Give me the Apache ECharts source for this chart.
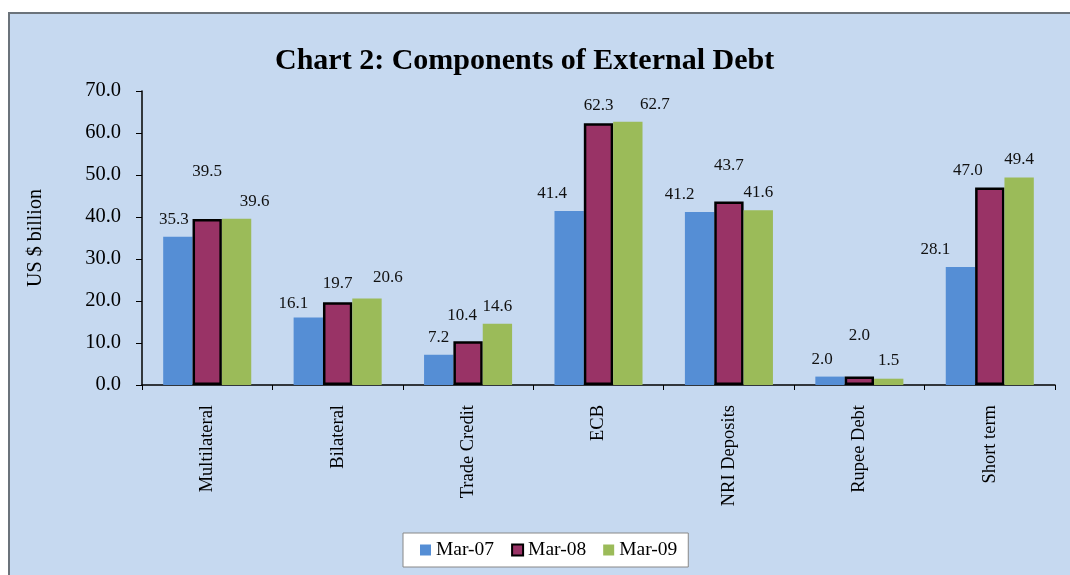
<!DOCTYPE html>
<html>
<head>
<meta charset="utf-8">
<script src="https://cdn.jsdelivr.net/npm/echarts@6/dist/echarts.min.js"></script>
<style>
  html, body { margin: 0; padding: 0; background: #ffffff; }
  #box { position: absolute; left: 8px; top: 12px; width: 1062px; height: 563px;
         background: #c6d9f0; border-left: 2px solid #6b737b; border-top: 2px solid #6b737b; box-sizing: border-box; }
  #chart { position: absolute; left: 0; top: 0; width: 1070px; height: 575px; }
</style>
</head>
<body>
<div id="box"></div>
<div id="chart"></div>
<script>
// ---- data ----
const categories = ['Multilateral', 'Bilateral', 'Trade Credit', 'ECB', 'NRI Deposits', 'Rupee Debt', 'Short term'];
const seriesNames = ['Mar-07', 'Mar-08', 'Mar-09'];
const mar07 = [35.3, 16.1, 7.2, 41.4, 41.2, 2.0, 28.1];
const mar08 = [39.5, 19.7, 10.4, 62.3, 43.7, 2.0, 47.0];
const mar09 = [39.6, 20.6, 14.6, 62.7, 41.6, 1.5, 49.4];
const yTicks = ['0.0', '10.0', '20.0', '30.0', '40.0', '50.0', '60.0', '70.0'];

// ---- label placement nudges (style only, mimics the original label layout) ----
const nudge07 = [[-4, 0], [-15, 4], [0, 0], [-17, 0], [-20, 0], [-8, 0], [-25, 0]];
const nudge08 = [[0, -30], [0, -1], [-6, -8], [0, 0], [0, -18], [0, -24], [-22, 0]];
const nudge09 = [[18, 0], [21, -3], [0, 0], [27, 0], [0, 0], [0, -1], [0, 0]];

const serif = 'Liberation Serif, Times New Roman, serif';
const chart = echarts.init(document.getElementById('chart'), null, { renderer: 'canvas' });

function mkData(values, nudges) {
  return values.map((v, i) => ({ value: v, label: { offset: nudges[i] } }));
}
const labelCfg = {
  show: true, position: 'top', distance: 9,
  fontFamily: serif, fontSize: 17, color: '#111',
  formatter: p => Number(p.value).toFixed(1)
};

const option = {
  backgroundColor: 'transparent',
  animation: false,
  title: {
    text: 'Chart 2: Components of External Debt',
    left: 270, top: 41,
    textStyle: { fontFamily: serif, fontSize: 30, fontWeight: 'bold', color: '#000' }
  },
  legend: {
    data: seriesNames,
    left: 403, top: 533,
    padding: [7, 11, 7, 17],
    itemWidth: 11, itemHeight: 11, itemGap: 17,
    backgroundColor: '#ffffff', borderColor: '#888888', borderWidth: 1,
    textStyle: { fontFamily: serif, fontSize: 19.5, color: '#000' },
    icon: 'rect'
  },
  grid: { left: 142, right: 15, top: 91, bottom: 190, containLabel: false },
  xAxis: {
    type: 'category',
    data: categories,
    axisLine: { lineStyle: { color: '#000', width: 1.5 } },
    axisTick: { show: true, length: 5, lineStyle: { color: '#000' } },
    axisLabel: { rotate: 90, margin: 20, fontFamily: serif, fontSize: 18.5, color: '#000' }
  },
  yAxis: {
    type: 'value',
    min: 0, max: 70, interval: 10,
    name: 'US $ billion',
    nameLocation: 'middle', nameGap: 96,
    nameTextStyle: { fontFamily: serif, fontSize: 20, color: '#000' },
    axisLine: { show: true, lineStyle: { color: '#000', width: 1.5 } },
    axisTick: { show: true, length: 6, lineStyle: { color: '#000' } },
    splitLine: { show: false },
    axisLabel: {
      margin: 21, fontFamily: serif, fontSize: 20.5, color: '#000',
      formatter: v => yTicks[Math.round(v / 10)]
    }
  },
  series: [
    { name: seriesNames[0], type: 'bar', data: mkData(mar07, nudge07),
      barGap: '0%', barCategoryGap: '32.5%',
      itemStyle: { color: '#558ed5' }, label: labelCfg },
    { name: seriesNames[1], type: 'bar', data: mkData(mar08, nudge08),
      barGap: '0%', barCategoryGap: '32.5%',
      itemStyle: { color: '#993366', borderColor: '#000', borderWidth: 2.5 }, label: labelCfg },
    { name: seriesNames[2], type: 'bar', data: mkData(mar09, nudge09),
      barGap: '0%', barCategoryGap: '32.5%',
      itemStyle: { color: '#9bbb59' }, label: labelCfg }
  ]
};
chart.setOption(option);
</script>
</body>
</html>
